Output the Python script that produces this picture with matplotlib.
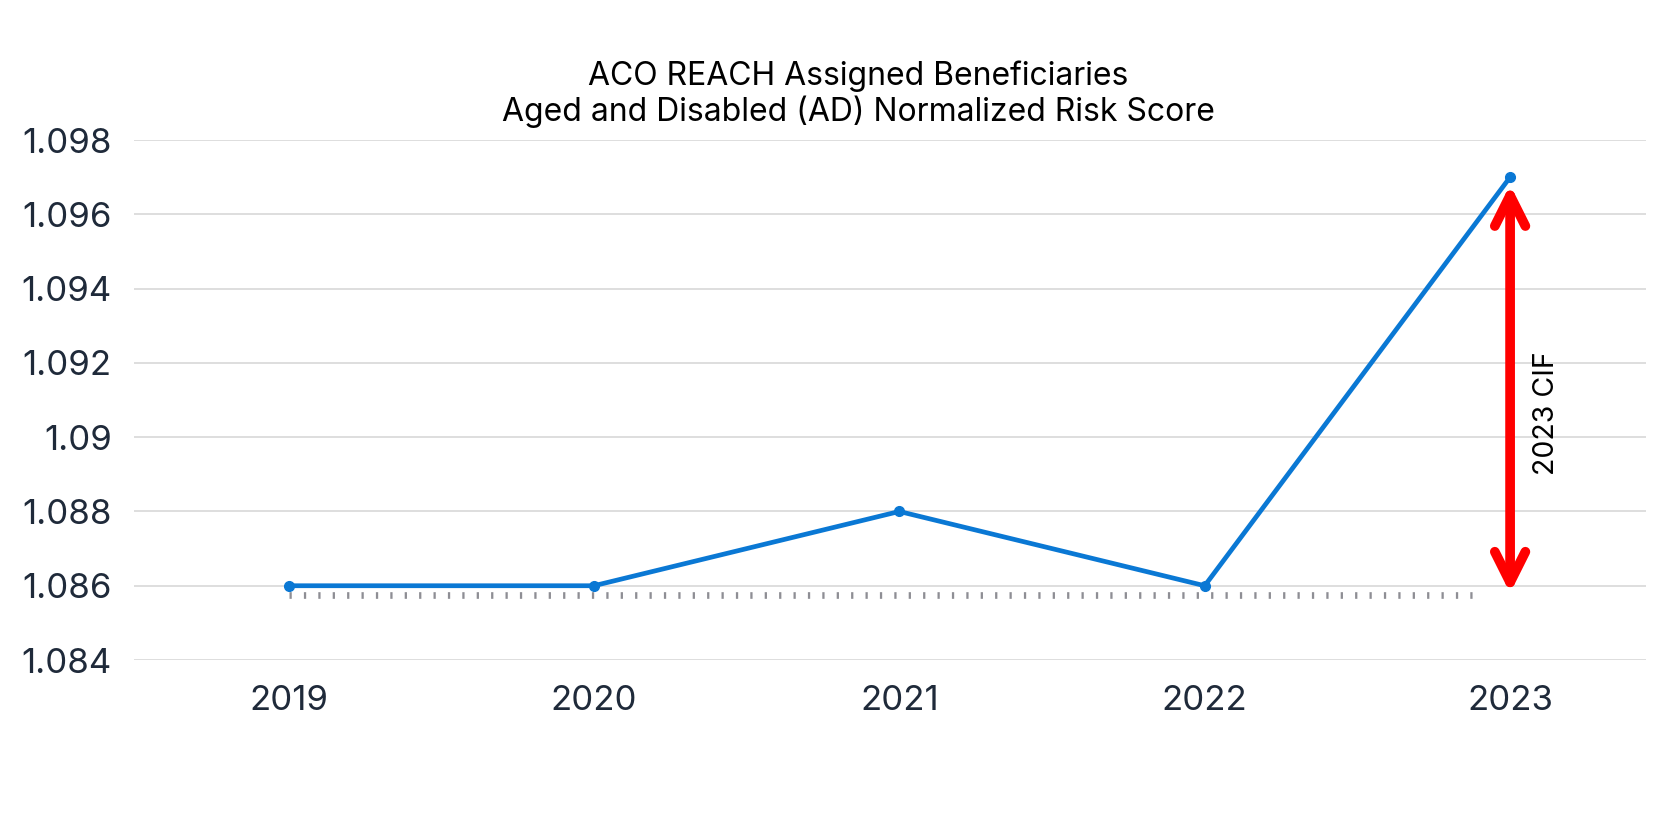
import matplotlib.pyplot as plt
import numpy as np

plt.rcParams['font.family'] = ['Inter', 'DejaVu Sans']

# data
years = [2019, 2020, 2021, 2022, 2023]
risk_score = [1.086, 1.086, 1.088, 1.086, 1.097]
y_ticks = [1.084, 1.086, 1.088, 1.09, 1.092, 1.094, 1.096, 1.098]
y_labels = ['1.084', '1.086', '1.088', '1.09', '1.092', '1.094', '1.096', '1.098']
title = 'ACO REACH Assigned Beneficiaries\nAged and Disabled (AD) Normalized Risk Score'
arrow_label = '2023 CIF'

label_color = '#1f2a3a'
line_color = '#0a78d4'

fig = plt.figure(figsize=(16.67, 8.34), dpi=100)
ax = fig.add_axes([0.0804, 0.2086, 0.907, 0.6235])

ax.plot(years, risk_score, color=line_color, lw=3.4, marker='o', ms=7,
        solid_capstyle='round', zorder=3, clip_on=False)

# hatched baseline below the series
ax.plot([2019, 2022.915], [1.08575, 1.08575], color='#8e8e94', lw=4.8,
        dashes=(0.34, 1.82), dash_capstyle='butt', zorder=2)

# CIF arrow
ax.annotate('', xy=(2023.0, 1.0968), xytext=(2023.0, 1.0858),
            arrowprops=dict(arrowstyle='<->,head_length=2.2,head_width=1.1',
                            color='#ff0000', lw=7, capstyle='round',
                            joinstyle='round', shrinkA=0, shrinkB=0),
            zorder=4)
ax.text(2023.12, 1.09064, arrow_label, rotation=90, ha='center', va='center',
        fontsize=20.5, color='black')

ax.set_xlim(2018.494, 2023.445)
ax.set_ylim(1.084, 1.098)
ax.set_xticks(years)
ax.set_xticklabels([str(y) for y in years])
ax.set_yticks(y_ticks)
ax.set_yticklabels(y_labels)
ax.tick_params(axis='both', length=0, labelsize=25, colors=label_color)
ax.tick_params(axis='y', pad=16)
ax.tick_params(axis='x', pad=18)
ax.grid(axis='y', color='#dedede', lw=1.4)
ax.set_axisbelow(True)
for s in ax.spines.values():
    s.set_visible(False)

fig.text(0.515, 0.887, title, ha='center', va='center', fontsize=23,
         color='black', linespacing=1.15)

fig.savefig('out.png', dpi=100, facecolor='white')
